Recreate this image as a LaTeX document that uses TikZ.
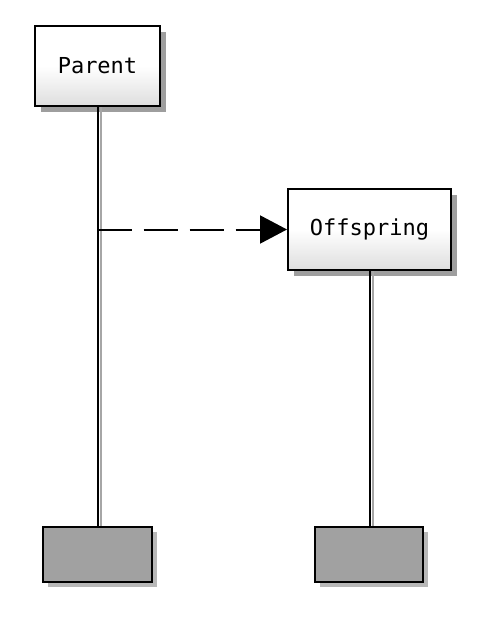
\documentclass[tikz,border=0pt]{standalone}
\usepackage{fontspec}
\newfontfamily\monofont{DejaVu Sans Mono}
\usetikzlibrary{shadows,arrows.meta}
\tikzset{
  objbox/.style={draw=black, line width=2pt, inner sep=0pt,
    top color=white, bottom color=black!13, middle color=white,
    font=\monofont\fontsize{22}{24}\selectfont,
    drop shadow={shadow xshift=6pt, shadow yshift=-6pt, fill=black!38, opacity=1}},
  endbox/.style={draw=black, line width=2pt, inner sep=0pt, fill=black!37,
    drop shadow={shadow xshift=5pt, shadow yshift=-5pt, fill=black!28, opacity=1}},
  lifeblack/.style={draw=black, line width=2pt},
  lifegray/.style={draw=black!35, line width=2pt},
  msg/.style={draw=black, line width=2pt, dash pattern=on 34pt off 12pt,
    -{Triangle[length=27pt,width=28pt]}}
}
\begin{document}
\begin{tikzpicture}[x=1pt,y=-1pt]
\useasboundingbox[fill=white] (0,0) rectangle (500,626);
\node[objbox, minimum width=125pt, minimum height=80pt] (parent) at (97.5,66) {Parent};
\node[objbox, minimum width=163pt, minimum height=81pt] (offspring) at (369.5,229.5) {Offspring};
\node[endbox, minimum width=109pt, minimum height=55pt] (pend) at (97.5,554.5) {};
\node[endbox, minimum width=108pt, minimum height=55pt] (oend) at (369,554.5) {};
\draw[lifegray] ([xshift=3pt]parent.south) -- ([xshift=3pt]parent.south |- pend.north);
\draw[lifeblack] (parent.south) -- (parent.south |- pend.north);
\draw[lifegray] ([xshift=3pt]offspring.south) -- ([xshift=3pt]offspring.south |- oend.north);
\draw[lifeblack] (offspring.south) -- (offspring.south |- oend.north);
\draw[msg] (parent.south |- offspring.west) -- (offspring.west);
\end{tikzpicture}
\end{document}
